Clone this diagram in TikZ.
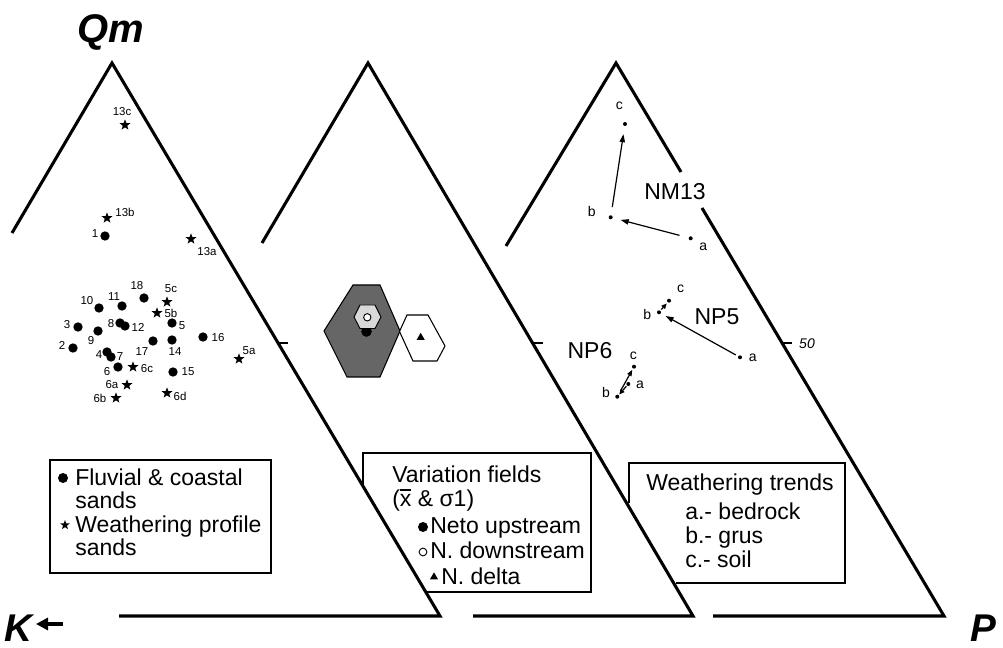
\documentclass[tikz,border=0pt]{standalone}
\usepackage{fontspec}
\setmainfont{Liberation Sans}
\usetikzlibrary{shapes.geometric,arrows.meta}
\newcommand{\myxbar}{{\setbox0\hbox{x}\rlap{\raisebox{\dimexpr\ht0+0.12em\relax}{\rule{\wd0}{0.07em}}}x}}
\begin{document}
\begin{tikzpicture}[x=0.75pt,y=-0.75pt,
  tri/.style={line width=2.3pt, line join=miter, line cap=butt},
  tick/.style={line width=1.6pt},
  dot/.style={circle, fill=black, inner sep=0pt, minimum size=7pt},
  sdot/.style={circle, fill=black, inner sep=0pt, minimum size=3pt},
  starpt/.style={star, star points=5, star point ratio=2.4, fill=black, inner sep=0pt, minimum size=8.5pt},
  plab/.style={font=\fontsize{8.6}{10}\selectfont, inner sep=0pt},
  tlab/.style={font=\fontsize{10.5}{12}\selectfont, inner sep=0pt},
  big/.style={font=\fontsize{17.25}{20}\selectfont, inner sep=0pt},
  leg/.style={font=\fontsize{17.25}{20}\selectfont, inner sep=0pt, anchor=base west},
  boxline/.style={line width=1.1pt},
  arr/.style={line width=0.9pt, -{Triangle[length=6pt,width=4pt]}},
  corner/.style={font=\fontsize{29}{32}\selectfont\bfseries\itshape, inner sep=0pt},
]
\useasboundingbox (0,0) rectangle (1003,648);

% ---------- triangles ----------
\draw[tri] (12,233) -- (112,63) -- (440,616) -- (119,616);
\draw[tri] (262,243) -- (368,63) -- (693,616) -- (473,616);
\draw[tri] (506,246) -- (616,63) -- (681,172);
\draw[tri] (702,208) -- (944,616) -- (713,616);
% 50% ticks
\draw[tick] (278,343) -- (288,343);
\draw[tick] (534,343) -- (543,343);
\draw[tick] (782,343) -- (792,343);
\node[tlab, font=\fontsize{10.5}{12}\selectfont\itshape] (fifty) at (807,344) {50};

% ---------- corner labels ----------
\node[corner, font=\fontsize{30}{32}\selectfont\bfseries\itshape] (qm) at (111,32) {Qm};
\node[corner] (kk) at (18,628) {K};
\node[corner] (pp) at (983,628) {P};
\coordinate (ktail) at (63,624);
\coordinate (khead) at (36,624);
\draw[line width=2.6pt, -{Triangle[length=9pt,width=9pt]}] (ktail) -- (khead);

% ---------- left triangle: data points ----------
\foreach \n/\x/\y/\lx/\ly in {
  1/105/236/95/234, 18/144/298/137/286, 10/99/308/87/301, 11/122/306/114/297,
  3/78/327/67/325, 8/120/323/111/324, 12/125/326/138/327, 9/98/331/91/341,
  5/172/323/182/326, 16/203/337/218/338, 2/73/348/62/345, 17/153/341/142/352,
  14/172/340/175/352, 4/107/352/99/355, 7/111/357/120/357, 6/118/367/107/372,
  15/173/372/188/372}
{
  \node[dot] (d\n) at (\x,\y) {};
  \node[plab] (l\n) at (\lx,\ly) {\n};
}
\foreach \n/\x/\y/\lx/\ly in {
  13c/125/125/122/112, 13b/107/218/125/212, 13a/191/239/207/252,
  5c/167/302/171/289, 5b/157/313/171/313, 5a/239/359/249/351,
  6c/133/367/147/369, 6a/127/385/112/385, 6b/116/398/100/398, 6d/167/393/180/396}
{
  \node[starpt] (s\n) at (\x,\y) {};
  \node[plab] (m\n) at (\lx,\ly) {\n};
}

% ---------- middle triangle: variation fields ----------
\filldraw[fill=black!60, draw=black, line width=0.8pt]
  (353,285) -- (380,285) -- (400,331) -- (380,377) -- (347,377) -- (324,331) -- cycle;
\node[dot, minimum size=8pt] (neto) at (366.5,331.5) {};
\filldraw[fill=black!15, draw=black, line width=0.7pt]
  (360,305) -- (375,305) -- (381,317) -- (375,328.5) -- (360,328.5) -- (354,317) -- cycle;
\node[circle, draw=black, fill=white, line width=0.7pt, inner sep=0pt, minimum size=5.5pt] (down) at (367.3,317.3) {};
\filldraw[fill=white, draw=black, line width=0.8pt]
  (407,315) -- (428,315) -- (445,346) -- (437,361) -- (413,361) -- (399.5,331.5) -- cycle;
\node[regular polygon, regular polygon sides=3, fill=black, inner sep=0pt, minimum size=7pt] (delta) at (420.7,337.5) {};

% ---------- right triangle: weathering trends ----------
\node[sdot] (nm13a) at (690.7,238.3) {};
\node[sdot] (nm13b) at (610.7,217.3) {};
\node[sdot] (nm13c) at (625,124) {};
\node[tlab] (nm13al) at (703.3,246.7) {a};
\node[tlab] (nm13bl) at (591.7,211.7) {b};
\node[tlab] (nm13cl) at (619.3,106) {c};
\draw[arr, shorten <=7pt, shorten >=6pt] (nm13a) -- (nm13b);
\draw[arr, shorten <=6pt, shorten >=6pt] (nm13b) -- (nm13c);
\node[big] (nm13) at (675,191.5) {NM13};

\node[sdot] (np5a) at (740,357.3) {};
\node[sdot] (np5b) at (659,312.3) {};
\node[sdot] (np5c) at (669,300.7) {};
\node[tlab] (np5al) at (752.7,358.3) {a};
\node[tlab] (np5bl) at (647.3,314.3) {b};
\node[tlab] (np5cl) at (680.7,289) {c};
\draw[arr, shorten <=2pt, shorten >=4pt] (np5a) -- (np5b);
\draw[line width=0.9pt, -{Triangle[length=4pt,width=3.5pt]}, shorten <=1pt, shorten >=1pt] (np5b) -- (np5c);
\node[big] (np5) at (717,316.7) {NP5};

\node[sdot] (np6a) at (628.3,384) {};
\node[sdot] (np6b) at (617.3,396.7) {};
\node[sdot] (np6c) at (634,366.7) {};
\node[tlab] (np6al) at (640,385) {a};
\node[tlab] (np6bl) at (606,392.7) {b};
\node[tlab] (np6cl) at (633.3,355.7) {c};
\draw[line width=0.9pt, -{Triangle[length=4pt,width=3.5pt]}, shorten <=0.5pt, shorten >=0.5pt] (np6a) -- (np6b);
\draw[line width=0.9pt, -{Triangle[length=4.5pt,width=3.5pt]}, shorten <=3pt, shorten >=1pt] (np6b) -- (np6c);
\node[big] (np6) at (590,351) {NP6};

% ---------- legend boxes ----------
\draw[boxline] (50,460) rectangle (271,573);
\node[dot, minimum size=7.5pt] (lg1dot) at (63,478) {};
\node[leg] (lg1a) at (75,485) {Fluvial \& coastal};
\node[leg] (lg1b) at (75,508) {sands};
\node[starpt, minimum size=7.5pt] (lg1star) at (65,525) {};
\node[leg] (lg1c) at (75,532) {Weathering profile};
\node[leg] (lg1d) at (75,555) {sands};

\draw[boxline] (363,486) -- (363,453) -- (591,453) -- (591,592) -- (426,592);
\node[leg] (lg2a) at (392,482) {Variation fields};
\node[leg] (lg2b) at (392,506) {(\myxbar{} \& σ1)};
\node[dot, minimum size=7.5pt] (lg2dot) at (423,527) {};
\node[leg] (lg2c) at (430,533) {Neto upstream};
\node[circle, draw=black, line width=0.7pt, inner sep=0pt, minimum size=5.8pt] (lg2circ) at (423,552) {};
\node[leg] (lg2d) at (430,558) {N. downstream};
\node[regular polygon, regular polygon sides=3, fill=black, inner sep=0pt, minimum size=7pt] (lg2tri) at (434,577) {};
\node[leg] (lg2e) at (441,584) {N. delta};

\draw[boxline] (629,503) -- (629,463) -- (845,463) -- (845,583) -- (676,583);
\node[leg] (lg3a) at (646,490) {Weathering trends};
\node[leg] (lg3b) at (685,519) {a.- bedrock};
\node[leg] (lg3c) at (685,543) {b.- grus};
\node[leg] (lg3d) at (685,567) {c.- soil};
\end{tikzpicture}
\end{document}
